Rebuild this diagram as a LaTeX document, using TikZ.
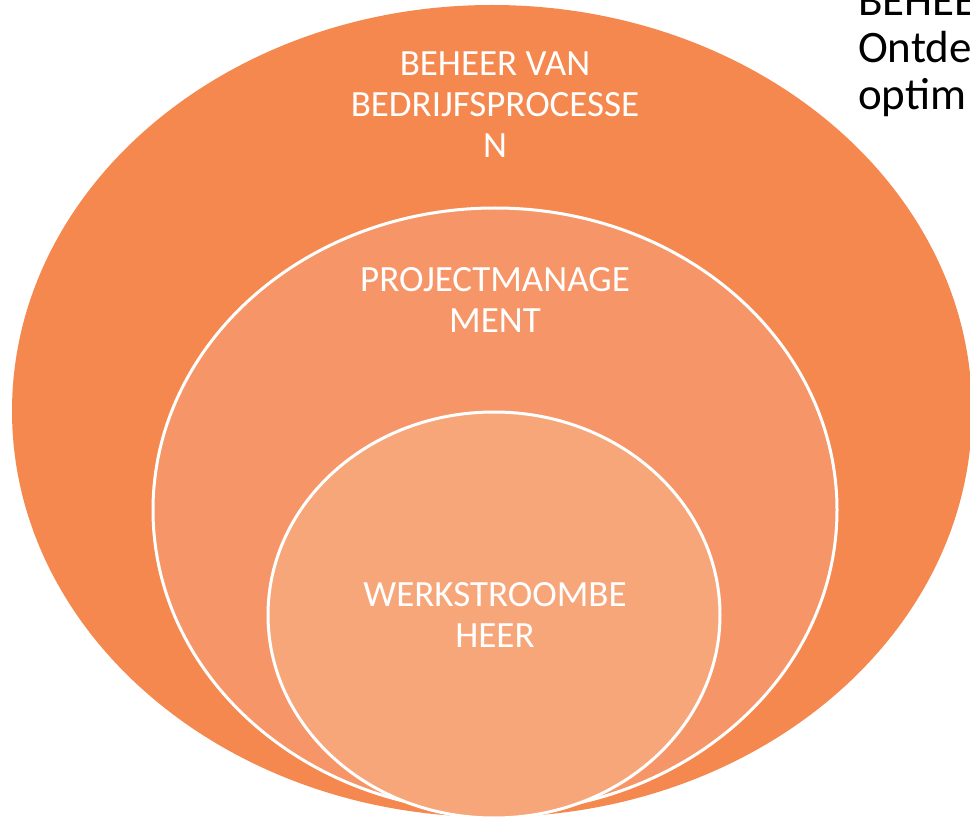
\documentclass[tikz,border=0pt]{standalone}
\usepackage{fontspec}
\setmainfont{Carlito}
\usetikzlibrary{shapes.geometric, positioning}

\definecolor{ringA}{RGB}{245,136,79}
\definecolor{ringB}{RGB}{246,150,104}
\definecolor{ringC}{RGB}{247,166,122}

\tikzset{
  ring/.style={ellipse, inner sep=0pt, draw=white, line width=3pt},
  ringlabel/.style={align=center, text=white, inner sep=0pt, anchor=base,
    font=\fontsize{37}{41}\selectfont}
}

\begin{document}
\begin{tikzpicture}[x=1pt,y=-1pt]
\useasboundingbox (0,0) rectangle (970,818);
\clip (0,0) rectangle (970,818);
% nested rings
\node[ring, draw=none, fill=ringA, minimum width=960pt, minimum height=812pt] (outer) at (492,411) {};
\node[ring, fill=ringB, minimum width=684pt, minimum height=604pt] (middle) at (495,510) {};
\node[ring, fill=ringC, minimum width=452pt, minimum height=406pt] (inner) at (494,615) {};
% labels (base = last line)
\node[ringlabel] (beheer) at (495,158) {BEHEER VAN\\BEDRIJFSPROCESSE\\N};
\node[ringlabel] (project) at (495,333) {PROJECTMANAGE\\MENT};
\node[ringlabel] (werk) at (495,647) {WERKSTROOMBE\\HEER};
% cut-off side text
\node[align=left, anchor=base west, inner sep=0pt,
  font=\fontsize{45}{47}\selectfont] (side) at (858,110) {BEHEE\\Ontde\\optim};
\end{tikzpicture}
\end{document}
